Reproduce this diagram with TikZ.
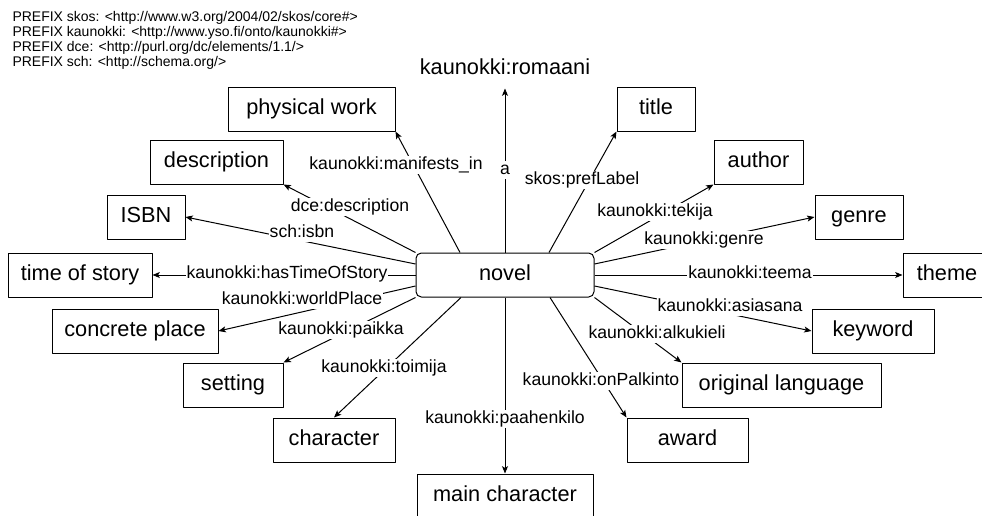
\documentclass[tikz,border=0pt]{standalone}
\usepackage{fontspec}
\setmainfont{Liberation Sans}
\usetikzlibrary{arrows.meta}
\newlength{\px}\setlength{\px}{0.75pt}
\tikzset{
  box/.style={draw, line width=1\px, minimum height=44\px, inner sep=0pt,
    text height=11.9pt, text depth=3.4pt, font=\fontsize{16.3}{19}\selectfont},
  lbl/.style={fill=white, inner sep=1\px, text height=9.6pt, text depth=2.8pt,
    font=\fontsize{13.2}{15}\selectfont},
}
\begin{document}
\begin{tikzpicture}[x=0.75pt, y=-0.75pt, line join=round, line width=1\px,
  >={Stealth[length=5.5pt,width=4.5pt,inset=1.3pt]}]
\useasboundingbox (0,0) rectangle (982,515);
\clip (0,0) rectangle (982,515);
\node[anchor=north west, align=left, inner sep=0pt, font=\fontsize{10.5}{11.25}\selectfont] (prefixes) at (12,11)
  {PREFIX skos: <http://www.w3.org/2004/02/skos/core\#>\\
   PREFIX kaunokki: <http://www.yso.fi/onto/kaunokki\#>\\
   PREFIX dce: <http://purl.org/dc/elements/1.1/>\\
   PREFIX sch: <http://schema.org/>};
% classes
\node[box, rounded corners=4pt, minimum width=178\px] (novel) at (505,275) {novel};
\node[inner xsep=0pt, inner ysep=13\px, font=\fontsize{16.3}{19}\selectfont] (romaani) at (505,67) {kaunokki:romaani};
\node[box, minimum width=167\px] (physical) at (311.5,109) {physical work};
\node[box, minimum width=133\px] (description) at (216.5,162) {description};
\node[box, minimum width=78\px] (isbn) at (146,217) {ISBN};
\node[box, minimum width=144\px] (time) at (80,275) {time of story};
\node[box, minimum width=166\px] (concrete) at (135,331) {concrete place};
\node[box, minimum width=100\px] (setting) at (233,385) {setting};
\node[box, minimum width=122\px] (character) at (334,440) {character};
\node[box, minimum width=176\px] (main) at (505,496) {main character};
\node[box, minimum width=78\px] (title) at (656,109) {title};
\node[box, minimum width=89\px] (author) at (758.5,162) {author};
\node[box, minimum width=88\px] (genre) at (859,217) {genre};
\node[box, minimum width=88\px] (theme) at (947,275) {theme};
\node[box, minimum width=122\px] (keyword) at (873,331) {keyword};
\node[box, minimum width=199\px] (original) at (781.5,385) {original language};
\node[box, minimum width=121\px] (award) at (687.5,440) {award};
% properties
\draw[->] (novel.north) -- (romaani.south);
\draw[->] ([xshift=-45\px]novel.north) -- (physical.south east);
\draw[->] (novel.north west) -- (description.south east);
\draw[->] ([yshift=11\px]novel.west) -- (isbn.east);
\draw[->] (novel.west) -- (time.east);
\draw[->] ([yshift=-11\px]novel.west) -- (concrete.east);
\draw[->] (novel.south west) -- (setting.north east);
\draw[->] ([xshift=-44\px]novel.south) -- (character.north);
\draw[->] (novel.south) -- (main.north);
\draw[->] ([xshift=45\px]novel.south) -- (award.north west);
\draw[->] (novel.south east) -- (original.north west);
\draw[->] ([yshift=-11\px]novel.east) -- (keyword.west);
\draw[->] (novel.east) -- (theme.west);
\draw[->] ([yshift=11\px]novel.east) -- (genre.west);
\draw[->] (novel.north east) -- (author.south west);
\draw[->] ([xshift=44\px]novel.north) -- (title.south west);
\node[lbl] (l-a) at (505,170) {a};
\node[lbl] (l-manifests) at (396,165) {kaunokki:manifests\_in};
\node[lbl] (l-description) at (350,207) {dce:description};
\node[lbl] (l-isbn) at (302,233) {sch:isbn};
\node[lbl] (l-time) at (287,274) {kaunokki:hasTimeOfStory};
\node[lbl] (l-world) at (302,300) {kaunokki:worldPlace};
\node[lbl] (l-paikka) at (341,330) {kaunokki:paikka};
\node[lbl] (l-toimija) at (384,368) {kaunokki:toimija};
\node[lbl] (l-paahenkilo) at (505,419) {kaunokki:paahenkilo};
\node[lbl] (l-palkinto) at (601,381) {kaunokki:onPalkinto};
\node[lbl] (l-alkukieli) at (657,334) {kaunokki:alkukieli};
\node[lbl] (l-asiasana) at (730,307) {kaunokki:asiasana};
\node[lbl] (l-teema) at (750,274) {kaunokki:teema};
\node[lbl] (l-genre) at (704,240) {kaunokki:genre};
\node[lbl] (l-tekija) at (655,212) {kaunokki:tekija};
\node[lbl] (l-preflabel) at (582,180) {skos:prefLabel};
\end{tikzpicture}
\end{document}
